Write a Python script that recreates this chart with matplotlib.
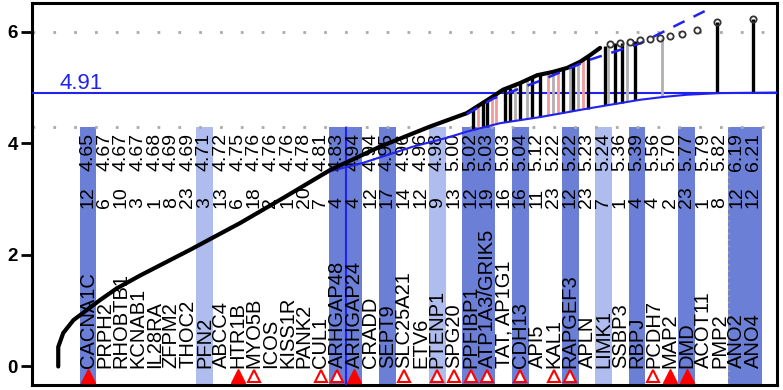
import matplotlib.pyplot as plt
import numpy as np

plt.rcParams['font.family'] = ['Liberation Sans', 'DejaVu Sans']

# gene labels along the bottom, with SNP count and score
genes = ['CACNA1C', 'PRPH2', 'RHOBTB1', 'KCNAB1', 'IL28RA', 'ZFPM2', 'THOC2', 'PFN2',
         'ABCC4', 'HTR1B', 'MYO5B', 'ICOS', 'KISS1R', 'PANK2', 'CUL1', 'ARHGAP48',
         'ARHGAP24', 'CRADD', 'SEPT9', 'SLC25A21', 'ETV6', 'PTENP1', 'SPG20', 'PPFIBP1',
         'ATP1A3/GRIK5', 'TAT, AP1G1', 'CDH13', 'API5', 'KAL1', 'RAPGEF3', 'APLN', 'LIMK1',
         'SSBP3', 'RBPJ', 'PCDH7', 'MAP2', 'DMD', 'ACOT11', 'PMP2', 'ANO2', 'ANO4']
counts = [12, 6, 10, 3, 1, 8, 23, 3, 13, 6, 18, 2, 1, 20, 7, 4,
          4, 12, 17, 14, 12, 9, 13, 12, 19, 16, 16, 11, 23, 12, 23, 7,
          1, 4, 4, 2, 23, 1, 8, 12, 12]
scores = [4.65, 4.67, 4.67, 4.67, 4.68, 4.69, 4.69, 4.71, 4.72, 4.75, 4.76, 4.76, 4.76, 4.78,
          4.81, 4.83, 4.94, 4.94, 4.95, 4.96, 4.96, 4.98, 5.00, 5.02, 5.03, 5.03, 5.04, 5.12,
          5.22, 5.22, 5.23, 5.24, 5.36, 5.39, 5.56, 5.70, 5.77, 5.79, 5.82, 6.19, 6.21]
# 0 = no band, 1 = light band, 2 = dark band
shade = [2, 0, 0, 0, 0, 0, 0, 1, 0, 0, 0, 0, 0, 0, 0, 2,
         2, 0, 2, 0, 0, 1, 0, 2, 2, 0, 2, 0, 0, 2, 0, 1,
         0, 2, 0, 0, 2, 0, 0, 2, 2]
# 0 = none, 1 = open triangle, 2 = filled triangle
marks = [2, 0, 0, 0, 0, 0, 0, 0, 0, 2, 1, 0, 0, 0, 1, 1,
         2, 0, 0, 1, 0, 1, 1, 1, 1, 0, 1, 0, 1, 1, 0, 0,
         0, 0, 1, 2, 2, 0, 0, 0, 0]

# observed curve (x in label-slot units)
curve_x = [-0.79, -0.79, -0.49, 0.12, 0.92, 1.72, 2.73, 4.13, 7.13, 10.14, 12.85, 15.55,
           18.56, 21.56, 23.77, 25.35, 25.95, 26.98, 28.0, 28.96, 29.80, 30.58, 31.19, 31.79]
curve_y = [0.0, 0.35, 0.60, 0.83, 1.01, 1.19, 1.40, 1.63, 2.09, 2.57, 3.04, 3.52,
           3.94, 4.30, 4.54, 4.84, 4.96, 5.08, 5.22, 5.28, 5.35, 5.46, 5.58, 5.71]
tail_x = [32.39, 32.99, 33.59, 34.19, 34.79, 35.40, 36.0, 36.72, 37.62, 38.82, 40.99]
tail_y = [5.78, 5.80, 5.82, 5.85, 5.87, 5.89, 5.92, 5.96, 6.03, 6.17, 6.23]

# envelope lines
lower_x = [-0.79, -0.79, -0.49, 0.12, 0.92, 1.72, 2.73, 4.13, 7.13, 10.14, 12.85, 15.55,
           17.54, 20.54, 22.59, 23.79, 25.77, 28.18, 31.19, 34.19, 35.58, 37.0, 39.0, 42.5]
lower_y = [0.0, 0.35, 0.60, 0.83, 1.01, 1.19, 1.40, 1.63, 2.09, 2.57, 3.04, 3.50,
           3.65, 3.94, 4.10, 4.21, 4.36, 4.47, 4.63, 4.78, 4.83, 4.87, 4.90, 4.91]
upper_x = [23.77, 25.35, 28.18, 31.19, 34.19, 38.22]
upper_y = [4.52, 4.80, 5.12, 5.50, 5.79, 6.39]

# vertical stems from points down to the envelope
stem_x = [24.15, 24.45, 24.75, 24.99, 25.29, 25.53, 26.07, 26.38, 26.68, 26.98, 27.40,
          27.70, 28.18, 28.66, 28.96, 29.26, 29.56, 29.98, 30.16, 30.46, 30.77, 31.07,
          32.09, 32.27, 32.69, 33.11, 33.41, 33.89, 35.52, 38.82, 40.99]
stem_top = [4.62, 4.68, 4.73, 4.77, 4.83, 4.88, 4.97, 5.00, 5.04, 5.08, 5.14,
            5.18, 5.23, 5.26, 5.28, 5.30, 5.33, 5.37, 5.39, 5.44, 5.50, 5.56,
            5.74, 5.76, 5.79, 5.80, 5.81, 5.84, 5.89, 6.17, 6.23]
stem_bot = [4.24, 4.26, 4.29, 4.30, 4.32, 4.34, 4.38, 4.40, 4.41, 4.42, 4.44,
            4.45, 4.47, 4.50, 4.52, 4.53, 4.55, 4.57, 4.58, 4.59, 4.61, 4.62,
            4.68, 4.69, 4.71, 4.73, 4.75, 4.77, 4.83, 4.91, 4.91]
stem_kind = ['k', 'p', 'k', 'k', 'p', 'p', 'k', 'k', 'g', 'k', 'g',
             'k', 'k', 'p', 'g', 'p', 'k', 'g', 'k', 'g', 'p', 'k',
             'k', 'g', 'k', 'k', 'g', 'k', 'g', 'k', 'k']

threshold = 4.91
band_top = 4.3

pos = np.arange(1, len(genes) + 1)

fig = plt.figure(figsize=(7.83, 3.90), dpi=100)
ax = fig.add_axes([0.0405, 0.0128, 0.9515, 0.9787])

# shaded bands behind the labels
band_colors = {1: '#aebcee', 2: '#6b7fd7'}
for p, s in zip(pos, shade):
    if s:
        ax.bar(p, band_top + 0.5, bottom=-0.5, width=1.0, color=band_colors[s], zorder=1)

ax.axhline(6.0, color='#aaaaaa', lw=2, ls=(0, (1, 6.5)), zorder=2)
ax.axhline(band_top, color='#aaaaaa', lw=2, ls=(0, (1, 6.5)), zorder=2)
ax.vlines(39.55, -0.5, band_top, color='#999999', lw=1.5, ls=(0, (1, 2)), zorder=2)

ax.axhline(threshold, color='#2222ee', lw=1.5, zorder=3)
ax.text(-0.7, 4.97, '%.2f' % threshold, color='#2222ee', fontsize=16, ha='left', va='baseline')
ax.vlines(16.5, -0.5, band_top, color='#2222ee', lw=1.5, zorder=3)

# labels
for p, g, c, v in zip(pos, genes, counts, scores):
    ax.text(p, -0.02, g, rotation=90, ha='center', va='bottom', fontsize=14.5, zorder=4)
    ax.text(p, 2.84, str(c), rotation=90, ha='center', va='bottom', fontsize=14, zorder=4)
    ax.text(p, 4.19, '%.2f' % v, rotation=90, ha='center', va='top', fontsize=14, zorder=4)

mark_row = -0.17
filled = [p for p, m in zip(pos, marks) if m == 2]
opened = [p for p, m in zip(pos, marks) if m == 1]
ax.plot(filled, [mark_row] * len(filled), '^', color='red', ms=10, zorder=5, clip_on=False)
ax.plot(opened, [mark_row] * len(opened), '^', mfc='white', mec='red', mew=1.5, ms=9,
        zorder=5, clip_on=False)

# stems
stem_colors = {'k': 'black', 'g': '#b0b0b0', 'p': '#f29a9a'}
stem_lw = {'k': 2.4, 'g': 2.0, 'p': 2.0}
for x, t, b, k in zip(stem_x, stem_top, stem_bot, stem_kind):
    ax.vlines(x, b, t, color=stem_colors[k], lw=stem_lw[k], zorder=6)

ax.plot(lower_x, lower_y, color='#2222ee', lw=1.5, zorder=7)
ax.plot(curve_x, curve_y, color='black', lw=3, solid_capstyle='round', zorder=8)
ax.plot(upper_x, upper_y, color='#2222ee', lw=1.8, ls=(0, (5, 4)), zorder=9)
ax.plot(tail_x, tail_y, 'o', mfc='none', mec='#333333', mew=1.3, ms=4.5, zorder=9)

ax.set_xlim(-2.385, 42.41)
ax.set_ylim(-0.332, 6.509)
ax.set_xticks([])
ax.set_yticks([0, 2, 4, 6])
ax.tick_params(axis='y', length=8, width=2, labelsize=13.5, pad=2)
for lab in ax.get_yticklabels():
    lab.set_fontweight('bold')
for sp in ax.spines.values():
    sp.set_linewidth(2.2)

fig.savefig('out.png', dpi=100)
